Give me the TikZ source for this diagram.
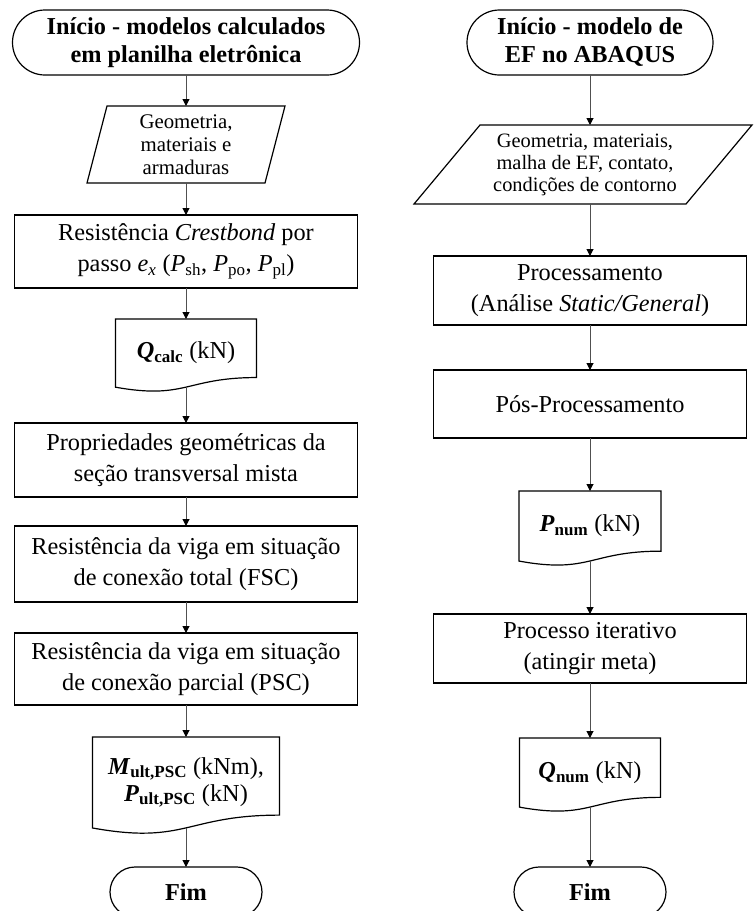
\documentclass[tikz,border=0pt]{standalone}
\usepackage{fontspec}
\setmainfont{Liberation Serif}
\usetikzlibrary{arrows.meta,calc}
\definecolor{arrowgray}{RGB}{80,80,80}
\newcommand\docshape[2]{%
  \draw[shapeline] (#1.north west) -- (#1.north east)
    -- ($(#1.north east)+(0,0.802*#2)$)
    .. controls ($(#1.north)+(0,0.802*#2)$) and ($(#1.north)+(0,1.1075*#2)$) ..
    ($(#1.north west)+(0,0.934*#2)$) -- cycle;}
\newcommand\parashape[3]{%
  \draw[shapeline] ($(#1.north west)+(#2,0)$) -- ($(#1.north east)+(#2,0)$)
    -- ($(#1.south east)-(#3,0)$) -- ($(#1.south west)-(#3,0)$) -- cycle;}
\tikzset{
  shapeline/.style={draw=black, line width=1.2pt},
  box/.style={shapeline, rectangle, align=center, inner sep=0pt, outer sep=0pt,
    font=\fontsize{24.3}{31}\selectfont},
  term/.style={box, rounded corners=32.5pt, font=\fontsize{24.3}{28}\selectfont\bfseries},
  fimterm/.style={box, rounded corners=25pt, font=\fontsize{24.3}{28}\selectfont\bfseries},
  txt/.style={rectangle, align=center, inner sep=0pt, outer sep=0pt},
  doctext/.style={txt, font=\fontsize{24.3}{27}\selectfont},
  paratext/.style={txt, font=\fontsize{20.8}{23}\selectfont},
  arr/.style={draw=arrowgray, line width=1pt, -{Triangle[length=7pt,width=7pt,color=black]}},
}
\begin{document}
\begin{tikzpicture}[x=1pt,y=-1pt]
\useasboundingbox (0,0) rectangle (754,911);
% ---------------- left column ----------------
\node[term, minimum width=347pt, minimum height=65pt] (t1) at (186,42.5)
  {Início - modelos calculados\\em planilha eletrônica};
\node[paratext, minimum width=178pt, minimum height=77pt] (p1) at (186,144.5)
  {Geometria,\\materiais e\\armaduras};
\parashape{p1}{10}{10}
\node[box, minimum width=343pt, minimum height=73pt] (b1) at (186,251.5)
  {Resistência \textit{Crestbond} por\\passo \textit{e}\textsubscript{\textit{x}} (\textit{P}\textsubscript{sh}, \textit{P}\textsubscript{po}, \textit{P}\textsubscript{pl})};
\node[doctext, minimum width=141pt, minimum height=68.1pt, anchor=north] (d1) at (186,319)
  {\textbf{\textit{Q}\textsubscript{calc}} (kN)};
\docshape{d1}{73}
\node[box, minimum width=343pt, minimum height=74pt] (b2) at (186,460)
  {Propriedades geométricas da\\seção transversal mista};
\node[box, minimum width=343pt, minimum height=76pt] (b3) at (186,564)
  {Resistência da viga em situação\\de conexão total (FSC)};
\node[box, minimum width=343pt, minimum height=72pt] (b4) at (186,669)
  {Resistência da viga em situação\\de conexão parcial (PSC)};
\node[doctext, minimum width=187pt, minimum height=90.9pt, anchor=north] (d2) at (186,737)
  {\textbf{\textit{M}\textsubscript{ult,PSC}} (kNm),\\\textbf{\textit{P}\textsubscript{ult,PSC}} (kN)};
\docshape{d2}{97.4}
\node[fimterm, minimum width=152pt, minimum height=50pt] (f1) at (186,892) {Fim};
\draw[arr] (t1) -- (p1);
\draw[arr] (p1) -- (b1);
\draw[arr] (b1) -- (d1);
\draw[arr] (d1) -- (b2);
\draw[arr] (b2) -- (b3);
\draw[arr] (b3) -- (b4);
\draw[arr] (b4) -- (d2);
\draw[arr] (d2) -- (f1);
% ---------------- right column ----------------
\node[term, minimum width=246pt, minimum height=65pt] (t2) at (590,42.5)
  {Início - modelo de\\EF no ABAQUS};
\node[paratext, minimum width=272pt, minimum height=79pt, font=\fontsize{20.4}{22}\selectfont] (p2) at (585,164.5)
  {Geometria, materiais,\\malha de EF, contato,\\condições de contorno};
\parashape{p2}{31}{35}
\node[box, minimum width=313pt, minimum height=69pt] (b5) at (590,290.5)
  {Processamento\\(Análise \textit{Static/General})};
\node[box, minimum width=313pt, minimum height=68pt] (b6) at (590,404)
  {Pós-Processamento};
\node[doctext, minimum width=142pt, minimum height=70pt, anchor=north] (d3) at (590,491)
  {\textbf{\textit{P}\textsubscript{num}} (kN)};
\docshape{d3}{75}
\node[box, minimum width=313pt, minimum height=69pt] (b7) at (590,648.5)
  {Processo iterativo\\(atingir meta)};
\node[doctext, minimum width=141pt, minimum height=69pt, anchor=north] (d4) at (590,738)
  {\textbf{\textit{Q}\textsubscript{num}} (kN)};
\docshape{d4}{74}
\node[fimterm, minimum width=152pt, minimum height=50pt] (f2) at (590,892) {Fim};
\draw[arr] (t2.south) -- (t2.south |- p2.north);
\draw[arr] (p2.south -| t2.south) -- (b5.north);
\draw[arr] (b5) -- (b6);
\draw[arr] (b6) -- (d3);
\draw[arr] (d3) -- (b7);
\draw[arr] (b7) -- (d4);
\draw[arr] (d4) -- (f2);
\end{tikzpicture}
\end{document}
